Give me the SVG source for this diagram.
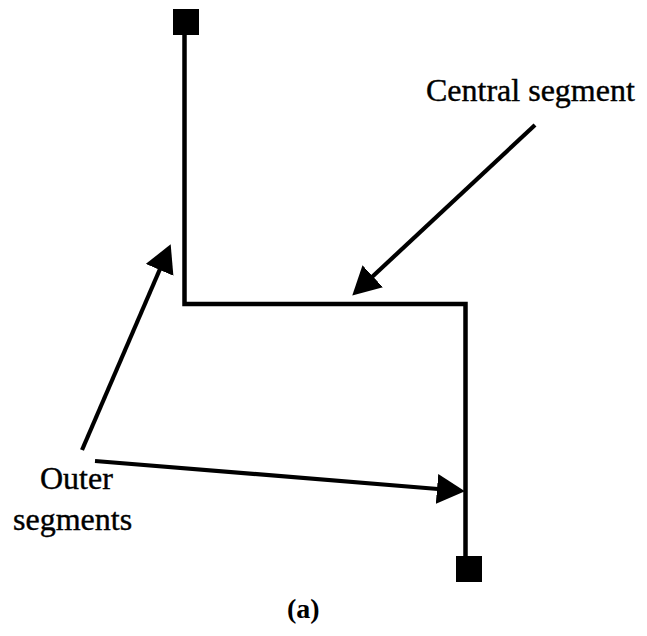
<svg xmlns="http://www.w3.org/2000/svg" width="647" height="636" viewBox="0 0 647 636">
<style>
.wire{fill:none;stroke:#000;stroke-width:4.5;stroke-linejoin:miter}
.term{fill:#000}
.arrow{fill:none;stroke:#000;stroke-width:4.2;marker-end:url(#ah)}
.lbl{font-family:"Liberation Serif","Times New Roman",serif;font-size:32px;fill:#000;stroke:#000;stroke-width:0.4}
.cap{font-family:"Liberation Serif","Times New Roman",serif;font-size:28px;font-weight:bold;fill:#000}
</style>
<defs>
<marker id="ah" markerUnits="userSpaceOnUse" markerWidth="28" markerHeight="30" viewBox="0 0 28 30" refX="1" refY="15" orient="auto">
<path d="M0,0 L28,15 L0,30 z" fill="#000"/>
</marker>
</defs>
<rect width="647" height="636" fill="#fff"/>
<g id="wire">
<polyline class="wire" points="184.5,34 184.5,304 465.5,304 465.5,557"/>
</g>
<g id="terminal-top">
<rect class="term" x="173" y="9" width="26" height="26"/>
</g>
<g id="terminal-bottom">
<rect class="term" x="456" y="556" width="26" height="26"/>
</g>
<g id="label-central">
<text class="lbl" x="426" y="101">Central segment</text>
</g>
<g id="label-outer">
<text class="lbl" x="40" y="489">Outer</text>
<text class="lbl" x="13" y="530">segments</text>
</g>
<g id="caption">
<text class="cap" x="287" y="618">(a)</text>
</g>
<g id="connectors">
<line class="arrow" x1="535" y1="125" x2="372" y2="277"/>
<line class="arrow" x1="82" y1="450" x2="160" y2="269"/>
<line class="arrow" x1="95" y1="461" x2="438" y2="489"/>
</g>
</svg>
